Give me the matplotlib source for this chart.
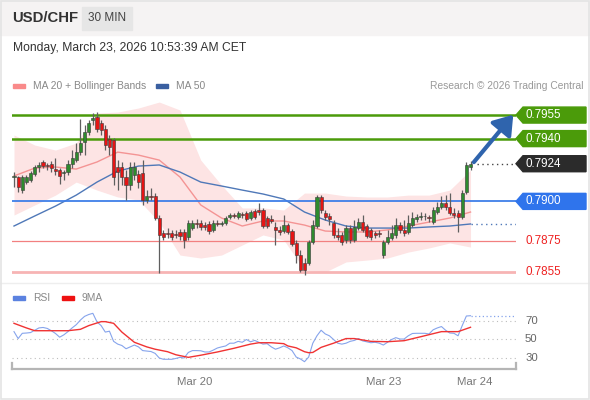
import matplotlib.pyplot as plt
import numpy as np
from matplotlib.patches import Polygon, Rectangle
from matplotlib.transforms import blended_transform_factory

plt.rcParams['font.family'] = ['Liberation Sans', 'DejaVu Sans']

# 30 min candles, USD/CHF
opens = [0.79155, 0.79155, 0.79072, 0.79123, 0.79136, 0.79174, 0.79219, 0.79251, 0.79232, 0.79238,
         0.79206, 0.79200, 0.79181, 0.79187, 0.79238, 0.79263, 0.79314, 0.79378, 0.79442, 0.79518,
         0.79537, 0.79499, 0.79461, 0.79397, 0.79391, 0.79219, 0.79219, 0.79155, 0.79104, 0.79168,
         0.79174, 0.79181, 0.79009, 0.79034, 0.79034, 0.78894, 0.78798, 0.78798, 0.78798, 0.78792,
         0.78805, 0.78805, 0.78773, 0.78830, 0.78862, 0.78862, 0.78849, 0.78856, 0.78818, 0.78862,
         0.78856, 0.78862, 0.78900, 0.78913, 0.78900, 0.78919, 0.78926, 0.78894, 0.78939, 0.78945,
         0.78945, 0.78894, 0.78888, 0.78837, 0.78818, 0.78811, 0.78849, 0.78811, 0.78735, 0.78658,
         0.78607, 0.78607, 0.78741, 0.78843, 0.79028, 0.78926, 0.78907, 0.78862, 0.78786, 0.78786,
         0.78754, 0.78830, 0.78754, 0.78830, 0.78868, 0.78843, 0.78818, 0.78798, 0.78798, 0.78658,
         0.78741, 0.78767, 0.78786, 0.78849, 0.78818, 0.78805, 0.78849, 0.78888, 0.78900, 0.78907,
         0.78900, 0.78868, 0.78932, 0.78964, 0.78990, 0.78964, 0.78926, 0.78926, 0.78900, 0.79060,
         0.79219]
closes = [0.79162, 0.79091, 0.79155, 0.79155, 0.79181, 0.79219, 0.79232, 0.79225, 0.79225, 0.79212,
          0.79193, 0.79162, 0.79187, 0.79238, 0.79276, 0.79314, 0.79372, 0.79442, 0.79499, 0.79531,
          0.79461, 0.79455, 0.79359, 0.79346, 0.79155, 0.79187, 0.79155, 0.79104, 0.79219, 0.79219,
          0.79123, 0.79009, 0.79034, 0.79028, 0.78894, 0.78786, 0.78773, 0.78792, 0.78773, 0.78786,
          0.78779, 0.78754, 0.78862, 0.78862, 0.78856, 0.78837, 0.78837, 0.78811, 0.78862, 0.78856,
          0.78859, 0.78894, 0.78913, 0.78907, 0.78926, 0.78913, 0.78888, 0.78932, 0.78900, 0.78932,
          0.78843, 0.78843, 0.78875, 0.78818, 0.78805, 0.78849, 0.78805, 0.78728, 0.78658, 0.78563,
          0.78563, 0.78741, 0.78849, 0.79028, 0.78945, 0.78900, 0.78888, 0.78786, 0.78773, 0.78741,
          0.78830, 0.78754, 0.78837, 0.78868, 0.78818, 0.78779, 0.78773, 0.78786, 0.78792, 0.78741,
          0.78773, 0.78798, 0.78849, 0.78818, 0.78798, 0.78862, 0.78894, 0.78900, 0.78907, 0.78904,
          0.78894, 0.78945, 0.78964, 0.78990, 0.78964, 0.78926, 0.78913, 0.78900, 0.79053, 0.79232,
          0.79238]
highs = [0.79187, 0.79162, 0.79168, 0.79168, 0.79193, 0.79232, 0.79251, 0.79263, 0.79244, 0.79257,
         0.79276, 0.79212, 0.79200, 0.79263, 0.79327, 0.79372, 0.79525, 0.79486, 0.79518, 0.79563,
         0.79569, 0.79518, 0.79486, 0.79423, 0.79404, 0.79263, 0.79251, 0.79200, 0.79251, 0.79251,
         0.79200, 0.79263, 0.79072, 0.79085, 0.79053, 0.78913, 0.78818, 0.78830, 0.78818, 0.78818,
         0.78824, 0.78824, 0.78881, 0.78881, 0.78888, 0.78881, 0.78868, 0.78875, 0.78881, 0.78881,
         0.78875, 0.78907, 0.78926, 0.78926, 0.78939, 0.78932, 0.78939, 0.78945, 0.78951, 0.78990,
         0.78958, 0.78907, 0.78913, 0.78868, 0.78843, 0.78913, 0.78862, 0.78824, 0.78754, 0.78690,
         0.78639, 0.78754, 0.78881, 0.79040, 0.79040, 0.78945, 0.78926, 0.78881, 0.78830, 0.78805,
         0.78849, 0.78849, 0.78881, 0.78894, 0.78913, 0.78856, 0.78830, 0.78811, 0.78818, 0.78754,
         0.78818, 0.78849, 0.78894, 0.78868, 0.78881, 0.78913, 0.78932, 0.78919, 0.78932, 0.78926,
         0.78913, 0.78964, 0.78996, 0.79034, 0.79040, 0.79053, 0.78958, 0.78945, 0.79072, 0.79251,
         0.79257]
lows = [0.79091, 0.79060, 0.79053, 0.79111, 0.79123, 0.79162, 0.79187, 0.79212, 0.79200, 0.79187,
        0.79168, 0.79111, 0.79136, 0.79168, 0.79212, 0.79251, 0.79295, 0.79295, 0.79423, 0.79486,
        0.79442, 0.79423, 0.79327, 0.79295, 0.79104, 0.79072, 0.79104, 0.79009, 0.79072, 0.79136,
        0.79085, 0.78977, 0.78990, 0.79009, 0.78881, 0.78544, 0.78754, 0.78767, 0.78754, 0.78767,
        0.78754, 0.78703, 0.78754, 0.78818, 0.78830, 0.78818, 0.78818, 0.78792, 0.78805, 0.78843,
        0.78843, 0.78849, 0.78888, 0.78894, 0.78888, 0.78894, 0.78875, 0.78881, 0.78888, 0.78913,
        0.78830, 0.78830, 0.78862, 0.78722, 0.78786, 0.78798, 0.78792, 0.78716, 0.78607, 0.78550,
        0.78531, 0.78595, 0.78728, 0.78830, 0.78926, 0.78881, 0.78849, 0.78767, 0.78754, 0.78722,
        0.78735, 0.78735, 0.78741, 0.78818, 0.78805, 0.78767, 0.78754, 0.78767, 0.78773, 0.78639,
        0.78728, 0.78754, 0.78767, 0.78798, 0.78779, 0.78792, 0.78837, 0.78868, 0.78881, 0.78881,
        0.78868, 0.78856, 0.78919, 0.78951, 0.78945, 0.78913, 0.78894, 0.78805, 0.78888, 0.79047,
        0.79200]

# indicators, read every 5 candles
band_idx = list(range(0, 111, 5))
bb_upper = [0.79423, 0.79359, 0.79327, 0.79372, 0.79563, 0.79569, 0.79595, 0.79633, 0.79582, 0.79263,
            0.79104, 0.78958, 0.78958, 0.78945, 0.79053, 0.79053, 0.79034, 0.79028, 0.79028, 0.79040,
            0.79040, 0.79072, 0.79200]
bb_lower = [0.78913, 0.78977, 0.79040, 0.79123, 0.79072, 0.79028, 0.79009, 0.78868, 0.78658, 0.78639,
            0.78658, 0.78722, 0.78786, 0.78754, 0.78563, 0.78550, 0.78614, 0.78626, 0.78639, 0.78677,
            0.78703, 0.78735, 0.78709]
ma20 = [0.79162, 0.79212, 0.79219, 0.79206, 0.79251, 0.79314, 0.79295, 0.79263, 0.79155, 0.78977,
        0.78894, 0.78843, 0.78875, 0.78875, 0.78849, 0.78811, 0.78805, 0.78805, 0.78818, 0.78843,
        0.78868, 0.78894, 0.78932]
ma50 = [0.78843, 0.78907, 0.78970, 0.79040, 0.79123, 0.79193, 0.79225, 0.79232, 0.79187, 0.79123,
        0.79098, 0.79072, 0.79047, 0.79015, 0.78932, 0.78881, 0.78843, 0.78830, 0.78830, 0.78830,
        0.78837, 0.78843, 0.78856]

rsi = [58.5, 51, 56.7, 57, 57.5, 60, 62.5, 63, 62, 59.5, 56.5, 52.5, 55, 58.5, 62.5, 66, 71, 75, 77, 78.3,
       69, 65, 58, 59, 48, 45, 43.5, 40, 42, 44, 42, 38, 37.5, 37, 35, 30, 28.6, 28.6, 28.6, 29.5,
       30.7, 30, 36, 38, 38, 37.8, 36.5, 36.5, 38.5, 40.8, 42, 43, 46, 46, 48, 47, 50, 47.5, 49, 47,
       45, 45.5, 42, 39.5, 41, 43, 41, 38, 31, 29, 26, 31, 46, 54, 60, 56, 54, 50, 46, 45,
       46, 48, 49, 51, 48.5, 47.5, 46.5, 47, 46, 44, 47, 50, 52, 50.5, 50.5, 54, 56.5, 56.7, 56.7, 56.7,
       56, 60.5, 62.5, 64, 60, 57, 56.7, 54, 65, 75.4, 75.7]
ma9_idx = [0, 3, 5, 9, 13, 16, 18, 21, 22, 24, 26, 29, 32, 34, 37, 39, 42, 45, 49, 53, 57, 59, 62, 65,
           66, 68, 70, 71, 72, 74, 77, 80, 82, 86, 90, 94, 98, 103, 107, 110]
ma9 = [67.5, 62.5, 59.5, 59.5, 59.5, 61, 65, 69.3, 69.3, 67.5, 58, 47, 42, 39.5, 36.8, 33.5, 30.7, 33,
       36.5, 40.5, 45, 46.5, 46.5, 45.5, 43, 41, 36.8, 35.7, 36, 41.5, 46, 51, 51, 48, 47.6, 48.7, 53,
       58.5, 58.5, 63.2]

levels = [0.7955, 0.7940, 0.7924, 0.7900, 0.7875, 0.7855]
level_labels = ["0.7955", "0.7940", "0.7924", "0.7900", "0.7875", "0.7855"]
date_ticks = [43.5, 89, 111]
date_labels = ["Mar 20", "Mar 23", "Mar 24"]

W, H = 590, 400
fig = plt.figure(figsize=(5.9, 4), dpi=100)
fig.patch.set_facecolor('white')


def fx(x):
    return x / W


def fy(y):
    return 1 - y / H


# header
fig.patches.append(Rectangle((0, fy(35)), 1, 35 / H, transform=fig.transFigure,
                             color='#f5f3f3', zorder=0))
fig.patches.append(Rectangle((fx(82), fy(30)), fx(50), 23 / H, transform=fig.transFigure,
                             color='#e6e6e6', zorder=1))
fig.text(fx(12), fy(18), "USD/CHF", fontsize=10.7, fontweight='bold', color='#333333', va='center')
fig.text(fx(107), fy(18), "30 MIN", fontsize=8.5, color='#444444', va='center', ha='center')
fig.text(fx(13), fy(48), "Monday, March 23, 2026 10:53:39 AM CET", fontsize=8.75, color='#333333',
         va='center')

# legends
fig.patches.append(Rectangle((fx(13), fy(88)), fx(12), 4 / H, transform=fig.transFigure, color='#f98a8a'))
fig.text(fx(33), fy(86), "MA 20 + Bollinger Bands", fontsize=7.4, color='#888888', va='center')
fig.patches.append(Rectangle((fx(156), fy(88)), fx(12), 4 / H, transform=fig.transFigure, color='#3a5fa0'))
fig.text(fx(176), fy(86), "MA 50", fontsize=7.4, color='#888888', va='center')
fig.text(fx(584), fy(86), "Research \u00a9 2026 Trading Central", fontsize=7.4, color='#999999',
         va='center', ha='right')
fig.patches.append(Rectangle((fx(13), fy(300)), fx(12), 4 / H, transform=fig.transFigure, color='#5b82e0'))
fig.text(fx(33), fy(298), "RSI", fontsize=7.4, color='#888888', va='center')
fig.patches.append(Rectangle((fx(62), fy(300)), fx(12), 4 / H, transform=fig.transFigure, color='#ee1111'))
fig.text(fx(82), fy(298), "9MA", fontsize=7.4, color='#888888', va='center')

fig.add_artist(plt.Line2D([0, 1], [fy(283), fy(283)], color='#eeeeee', lw=1, transform=fig.transFigure))

# main price panel
ax = fig.add_axes([fx(12), fy(280), fx(504), 180 / H])
ax.set_xlim(-0.48, 120.96)
ax.set_ylim(0.78499, 0.79646)
ax.axis('off')

ax.fill_between(band_idx, bb_lower, bb_upper, color='#fde4e4', lw=0, zorder=1)
ax.plot(band_idx, ma20, color='#f49494', lw=1, zorder=2)
ax.plot(band_idx, ma50, color='#4f78b8', lw=1, zorder=2)
ax.plot([band_idx[-1], 121], [ma50[-1], ma50[-1]], color='#4f78b8', lw=1, ls=(0, (1, 2.5)), zorder=2)

line_styles = {
    0.7955: dict(color='#4b9b0a', lw=1.8),
    0.7940: dict(color='#4b9b0a', lw=1.8),
    0.7900: dict(color='#3f7fe8', lw=1.3),
    0.7875: dict(color='#f28080', lw=0.9),
    0.7855: dict(color='#f7b4b4', lw=2.0),
}
for lv, st in line_styles.items():
    ax.axhline(lv, zorder=3, **st)
ax.plot([111.5, 121], [0.7924, 0.7924], color='#444444', lw=1, ls=(0, (1, 2.5)), zorder=3)

idx = np.arange(len(opens))
o = np.array(opens)
c = np.array(closes)
ax.vlines(idx, lows, highs, color='#5f5f5f', lw=0.9, zorder=4)
bottom = np.minimum(o, c)
height = np.maximum(np.abs(c - o), 0.00005)
colors = np.where(c >= o, '#2e8b2e', '#e51515')
ax.bar(idx, height, bottom=bottom, width=0.75, color=colors, edgecolor='#3a3a3a', lw=0.4, zorder=5)

ax.annotate("", xy=(120.3, 0.79552), xytext=(110.8, 0.79250),
            arrowprops=dict(arrowstyle='-|>,head_length=0.8,head_width=0.55', lw=3, color='#2f64ad',
                            mutation_scale=14, shrinkA=0, shrinkB=0), zorder=6)

# price tags on the right
tr = blended_transform_factory(ax.transAxes, ax.transData)
tag_colors = {0.7955: '#4b9b0a', 0.7940: '#4b9b0a', 0.7924: '#2b2b2b', 0.7900: '#2f74ec'}
half = 0.00051
for lv, lab in zip(levels, level_labels):
    if lv in tag_colors:
        poly = Polygon([(1.0, lv), (1.0139, lv + half), (1.1389, lv + half),
                        (1.1389, lv - half), (1.0139, lv - half)], closed=True,
                       transform=tr, color=tag_colors[lv], clip_on=False, zorder=6)
        ax.add_patch(poly)
        ax.text(1.019, lv, lab, transform=tr, color='white', fontsize=8.4, va='center', ha='left',
                clip_on=False, zorder=7)
    else:
        ax.text(1.019, lv, lab, transform=tr, color='#ee2222', fontsize=8.4, va='center', ha='left',
                clip_on=False, zorder=7)

# RSI panel
rx = fig.add_axes([fx(12), fy(369), fx(504), 64 / H])
rx.set_xlim(-0.48, 120.96)
rx.set_ylim(18.1, 87.3)
for s in ['top', 'right', 'left']:
    rx.spines[s].set_visible(False)
rx.spines['bottom'].set_color('#b5b5b5')
rx.spines['bottom'].set_linewidth(1.6)
rx.set_yticks([])
rx.set_xticks(date_ticks)
rx.set_xticklabels(date_labels, fontsize=8.2, color='#777777')
rx.tick_params(axis='x', length=0, pad=6)
for xe in (0, 1):
    rx.plot([xe, xe], [0, 0.09], transform=rx.transAxes, color='#b5b5b5', lw=1.6, clip_on=False)

rtr = blended_transform_factory(rx.transAxes, rx.transData)
for v in (30, 50, 70):
    rx.axhline(v, color='#bdbdbd', lw=0.8, ls=(0, (1, 3)))
    rx.text(1.018, v, str(v), transform=rtr, fontsize=8.2, color='#666666', va='center', ha='left')

rx.plot(idx, rsi, color='#86a4ec', lw=0.8)
rx.plot([idx[-1], 121], [rsi[-1], rsi[-1]], color='#86a4ec', lw=0.9, ls=(0, (1, 2)))
rx.plot(ma9_idx, ma9, color='#f03333', lw=1)

# outer frame
fig.patches.append(Rectangle((0.001, 0.002), 0.997, 0.996, transform=fig.transFigure, fill=False,
                             edgecolor='#e4e4e4', lw=1.2, zorder=10))

fig.savefig("out.png", dpi=100)
